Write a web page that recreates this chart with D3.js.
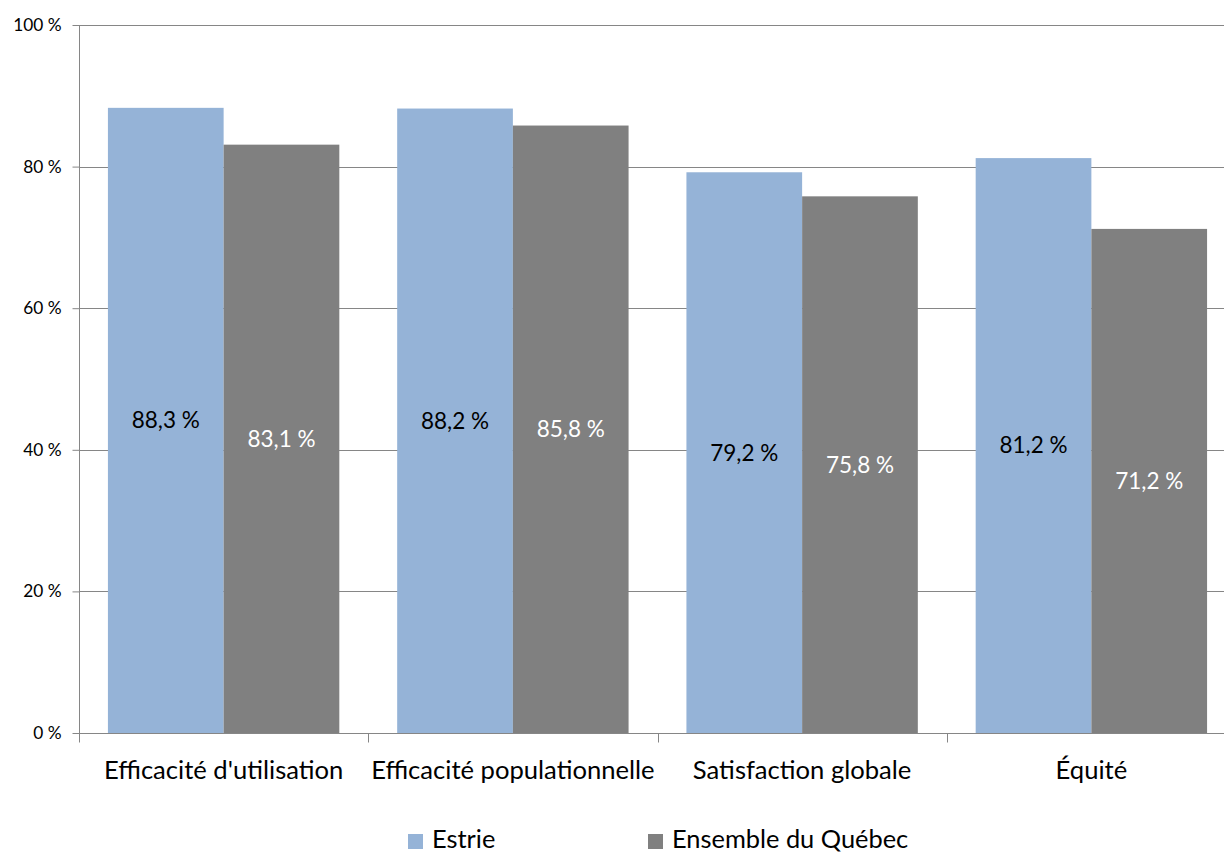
<!DOCTYPE html>
<html>
<head>
<meta charset="utf-8">
<script src="https://cdn.jsdelivr.net/npm/d3@7"></script>
<style>
  body { margin: 0; background: #fff; }
  svg { display: block; font-family: Lato, sans-serif; }
</style>
</head>
<body>
<svg id="chart" width="1224" height="852"></svg>
<script>
var categories = ["Efficacité d'utilisation", "Efficacité populationnelle", "Satisfaction globale", "Équité"];
var seriesNames = ["Estrie", "Ensemble du Québec"];
var estrie = [88.3, 88.2, 79.2, 81.2];
var quebec = [83.1, 85.8, 75.8, 71.2];
var yTicks = [0, 20, 40, 60, 80, 100];

var colors = ["#95b3d7", "#808080"];
var labelColors = ["#000", "#fff"];

var margin = {top: 25, left: 79, bottom: 733, right: 1236};

var svg = d3.select('#chart');

var x = d3.scaleBand()
	.domain(categories)
	.range([margin.left, margin.right])
	.paddingInner(0)
	.paddingOuter(0);

var xInner = d3.scaleBand()
	.domain(seriesNames)
	.range([0, x.bandwidth()])
	.paddingOuter(0.25);

var y = d3.scaleLinear()
	.domain([0, 100])
	.range([margin.bottom, margin.top]);

// gridlines
svg.append('g')
	.selectAll('line')
	.data(yTicks.filter(d => d > 0))
	.enter().append('line')
	.attr('x1', margin.left)
	.attr('x2', 1224)
	.attr('y1', d => Math.round(y(d)) + 0.5)
	.attr('y2', d => Math.round(y(d)) + 0.5)
	.attr('stroke', '#868686')
	.attr('stroke-width', 1);

// bars
var rows = categories.map((c, i) => ({cat: c, values: [estrie[i], quebec[i]]}));

var groups = svg.append('g')
	.selectAll('g')
	.data(rows)
	.enter().append('g')
	.attr('transform', d => 'translate(' + x(d.cat) + ',0)');

groups.selectAll('rect')
	.data(d => d.values.map((v, j) => ({name: seriesNames[j], v: v, j: j})))
	.enter().append('rect')
	.attr('x', d => xInner(d.name))
	.attr('y', d => y(d.v))
	.attr('width', xInner.bandwidth())
	.attr('height', d => y(0) - y(d.v))
	.attr('fill', d => colors[d.j]);

groups.selectAll('text')
	.data(d => d.values.map((v, j) => ({name: seriesNames[j], v: v, j: j})))
	.enter().append('text')
	.attr('x', d => xInner(d.name) + xInner.bandwidth() / 2)
	.attr('y', d => (y(d.v) + y(0)) / 2)
	.attr('dy', '0.35em')
	.attr('text-anchor', 'middle')
	.attr('font-size', '22.5px')
	.attr('fill', d => labelColors[d.j])
	.text(d => d3.format('.1f')(d.v).replace('.', ',') + ' %');

// y axis
var yAxis = d3.axisLeft(y)
	.tickValues(yTicks)
	.tickSize(7)
	.tickFormat(d => d + ' %');

var gy = svg.append('g')
	.attr('transform', 'translate(' + (margin.left + 0.5) + ',0)')
	.call(yAxis);
gy.select('.domain').attr('d', 'M0,' + margin.top + 'V' + (margin.bottom + 9)).attr('stroke', '#868686');
gy.selectAll('.tick line').attr('stroke', '#868686');
gy.selectAll('.tick text')
	.attr('x', -18)
	.attr('font-size', '17.3px')
	.attr('font-family', 'Lato, sans-serif')
	.attr('fill', '#000');

// x axis
var gx = svg.append('g')
	.attr('transform', 'translate(0,' + (margin.bottom + 0.5) + ')');
gx.append('line')
	.attr('x1', margin.left)
	.attr('x2', 1224)
	.attr('stroke', '#868686');
gx.selectAll('.xt')
	.data(categories)
	.enter().append('line')
	.attr('class', 'xt')
	.attr('x1', d => Math.round(x(d)) + 0.5)
	.attr('x2', d => Math.round(x(d)) + 0.5)
	.attr('y1', 0)
	.attr('y2', 9)
	.attr('stroke', '#868686');
gx.selectAll('text')
	.data(categories)
	.enter().append('text')
	.attr('x', d => x(d) + x.bandwidth() / 2)
	.attr('y', 45)
	.attr('text-anchor', 'middle')
	.attr('font-size', '25.6px')
	.attr('fill', '#000')
	.text(d => d);

// legend
var legendX = [408, 648];
var legend = svg.append('g')
	.selectAll('g')
	.data(seriesNames)
	.enter().append('g')
	.attr('transform', (d, i) => 'translate(' + legendX[i] + ',834)');
legend.append('rect')
	.attr('width', 15)
	.attr('height', 15)
	.attr('fill', (d, i) => colors[i]);
legend.append('text')
	.attr('x', 24)
	.attr('y', 14)
	.attr('font-size', '25.4px')
	.attr('fill', '#000')
	.text(d => d);
</script>
</body>
</html>
